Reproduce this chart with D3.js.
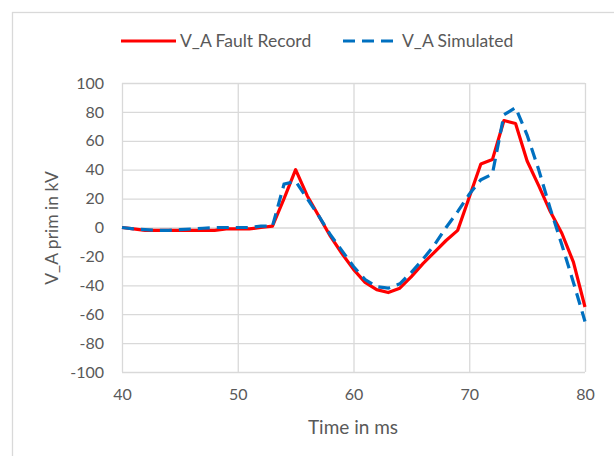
<!DOCTYPE html>
<meta charset="utf-8">
<style>
body { margin: 0; background: #fff; }
text { font-family: Lato, "Open Sans", sans-serif; fill: #595959; }
.grid .domain { display: none; }
.grid line { stroke: #d9d9d9; stroke-width: 1.3; }
</style>
<svg width="614" height="456"></svg>
<script src="https://cdn.jsdelivr.net/npm/d3@7"></script>
<script>

// time in ms
var times = d3.range(40, 81);

// V_A Fault Record (kV)
var faultRecord = [0, -1, -2, -2, -2, -2, -2, -2, -2, -1,
  -1, -1, 0, 1, 20, 40, 22, 8, -6, -18,
  -29, -38, -43, -45, -42, -34, -25, -17, -9, -2,
  21, 44, 47, 74, 72, 46, 29, 11, -4, -24,
  -55];

// V_A Simulated (kV)
var simulated = [0, -1, -1.5, -2, -2, -1.5, -1, -0.5, 0, 0,
  0, 0, 1, 1, 30, 32, 20, 8, -5, -16,
  -27, -36, -41, -42, -39, -31, -22, -12, 0, 11,
  23, 33, 37, 78, 83, 64, 40, 13, -12, -38,
  -65];

var xTicks = [40, 50, 60, 70, 80];
var yTicks = d3.range(-100, 101, 20);

var seriesNames = ["V_A Fault Record", "V_A Simulated"];
var colors = ["#ff0000", "#0070c0"];

var svg = d3.select("svg"),
    margin = {top: 83, right: 29, bottom: 84, left: 122},
    width = +svg.attr("width") - margin.left - margin.right,
    height = +svg.attr("height") - margin.top - margin.bottom;

// chart area border (runs off the right and bottom)
svg.append("rect")
    .attr("x", 12.5)
    .attr("y", 12.5)
    .attr("width", 700)
    .attr("height", 600)
    .attr("fill", "none")
    .attr("stroke", "#d9d9d9")
    .attr("stroke-width", 1.3);

var g = svg.append("g").attr("transform", "translate(" + margin.left + "," + margin.top + ")");

var x = d3.scaleLinear().domain([40, 80]).range([0, width]);
var y = d3.scaleLinear().domain([-100, 100]).range([height, 0]);

var plain = function(d) { return String(d); };

g.append("g")
    .attr("class", "grid")
    .attr("transform", "translate(0," + height + ")")
    .call(d3.axisBottom(x).tickValues(xTicks).tickFormat(plain).tickSize(-height).tickPadding(17))
    .selectAll("text")
      .attr("font-size", 16);

g.append("g")
    .attr("class", "grid")
    .call(d3.axisLeft(y).tickValues(yTicks).tickFormat(plain).tickSize(-width).tickPadding(18))
    .selectAll("text")
      .attr("font-size", 16);

g.selectAll(".grid text").attr("fill", "#595959").style("font-family", "Lato, sans-serif");

var line = d3.line()
    .x(function(d, i) { return x(times[i]); })
    .y(function(d) { return y(d); });

g.append("path")
    .datum(faultRecord)
    .attr("fill", "none")
    .attr("stroke", colors[0])
    .attr("stroke-width", 3.2)
    .attr("stroke-linejoin", "round")
    .attr("d", line);

g.append("path")
    .datum(simulated)
    .attr("fill", "none")
    .attr("stroke", colors[1])
    .attr("stroke-width", 3.2)
    .attr("stroke-dasharray", "12,7")
    .attr("d", line);

// axis titles
svg.append("text")
    .attr("x", 353)
    .attr("y", 434)
    .attr("text-anchor", "middle")
    .attr("font-size", 19)
    .text("Time in ms");

svg.append("text")
    .attr("transform", "translate(58,228) rotate(-90)")
    .attr("text-anchor", "middle")
    .attr("font-size", 17.5)
    .text("V_A prim in kV");

// legend
var legend = svg.append("g")
    .selectAll("g")
    .data(seriesNames)
    .enter().append("g")
      .attr("transform", function(d, i) { return "translate(" + [121, 343][i] + ",41)"; });

legend.append("line")
    .attr("x1", 0)
    .attr("x2", 55)
    .attr("stroke", function(d, i) { return colors[i]; })
    .attr("stroke-width", 3.2)
    .attr("stroke-dasharray", function(d, i) { return i ? "12,7" : null; });

legend.append("text")
    .attr("x", 59)
    .attr("y", 6)
    .attr("font-size", 17.5)
    .text(function(d) { return d; });

</script>
